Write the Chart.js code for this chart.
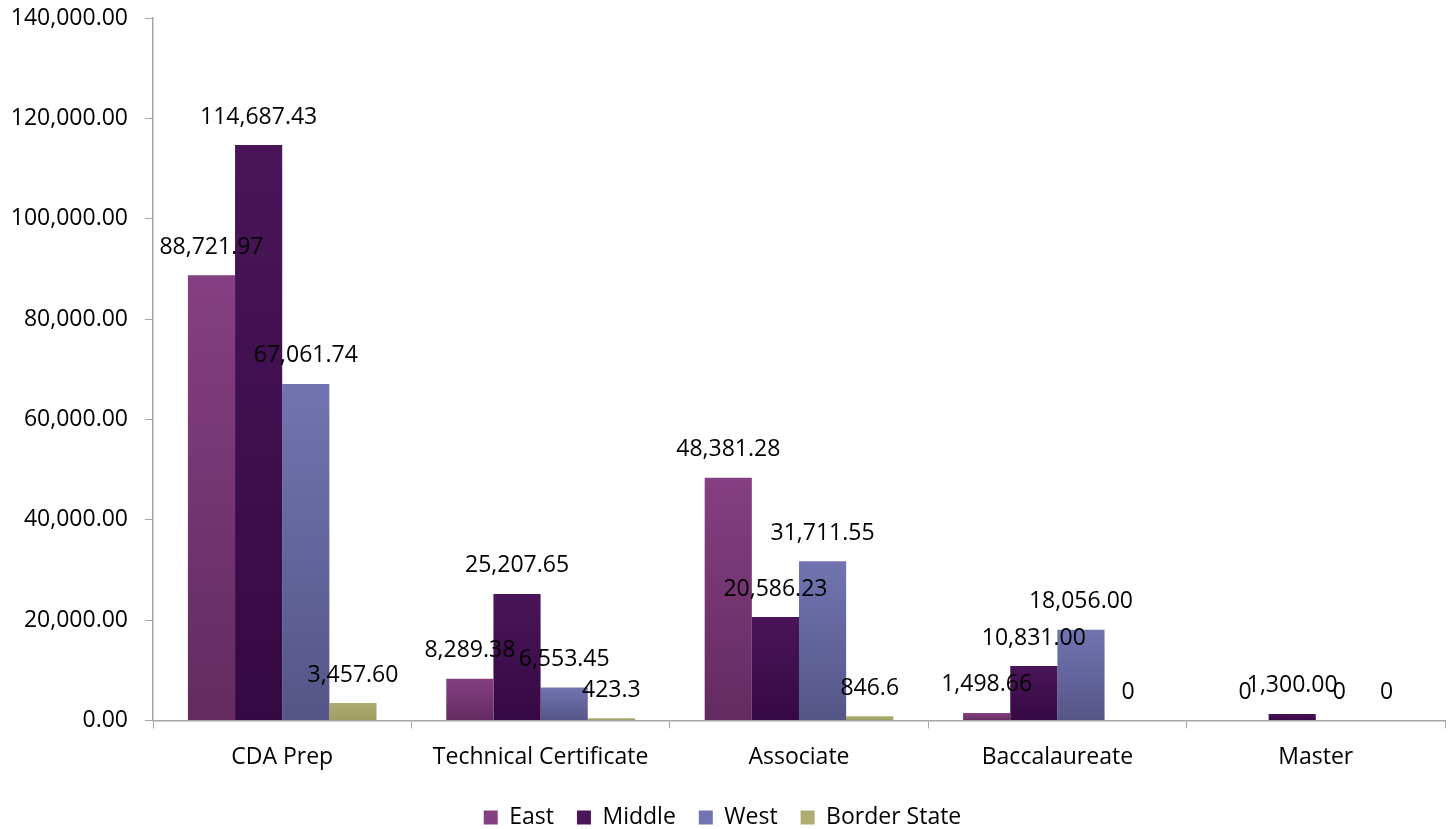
<!DOCTYPE html>
<html>
<head>
<meta charset="utf-8">
<script src="https://cdn.jsdelivr.net/npm/chart.js@4/dist/chart.umd.min.js"></script>
<style>
  body { margin: 0; background: #fff; }
  #wrap { width: 1453px; height: 829px; }
</style>
</head>
<body>
<div id="wrap"><canvas id="myChart"></canvas></div>
<script>
var categories = ["CDA Prep", "Technical Certificate", "Associate", "Baccalaureate", "Master"];
var seriesNames = ["East", "Middle", "West", "Border State"];
var east = [88721.97, 8289.38, 48381.28, 1498.66, 0];
var middle = [114687.43, 25207.65, 20586.23, 10831.00, 1300.00];
var west = [67061.74, 6553.45, 31711.55, 18056.00, 0];
var border = [3457.60, 423.3, 846.6, 0, 0];
var eastLabels = ["88,721.97", "8,289.38", "48,381.28", "1,498.66", "0"];
var middleLabels = ["114,687.43", "25,207.65", "20,586.23", "10,831.00", "1,300.00"];
var westLabels = ["67,061.74", "6,553.45", "31,711.55", "18,056.00", "0"];
var borderLabels = ["3,457.60", "423.3", "846.6", "0", "0"];
var yTicks = [0, 20000, 40000, 60000, 80000, 100000, 120000, 140000];

var FONT = "'Open Sans', sans-serif";
var FSIZE = 23;

// top / bottom colours of each series gradient
var colours = [
  ["#853f82", "#632b60"],
  ["#4a1559", "#350943"],
  ["#7274b1", "#555587"],
  ["#aeac72", "#9e9c60"]
];
var allLabels = [eastLabels, middleLabels, westLabels, borderLabels];

function barFill(idx) {
  return function(c) {
    var chart = c.chart;
    if (!chart.chartArea || c.raw === undefined) return colours[idx][0];
    var y = chart.scales.y;
    var top = y.getPixelForValue(c.raw);
    var bottom = y.getPixelForValue(0);
    if (bottom - top < 1) return colours[idx][0];
    var g = chart.ctx.createLinearGradient(0, top, 0, bottom);
    g.addColorStop(0, colours[idx][0]);
    g.addColorStop(1, colours[idx][1]);
    return g;
  };
}

var valueLabels = {
  id: "valueLabels",
  afterDatasetsDraw: function(chart) {
    var ctx = chart.ctx;
    ctx.save();
    ctx.font = FSIZE + "px " + FONT;
    ctx.fillStyle = "#000";
    ctx.textAlign = "center";
    ctx.textBaseline = "middle";
    chart.data.datasets.forEach(function(ds, i) {
      var meta = chart.getDatasetMeta(i);
      meta.data.forEach(function(bar, j) {
        ctx.fillText(allLabels[i][j], bar.x, bar.y - 28);
      });
    });
    ctx.restore();
  }
};

var chart = document.getElementById("myChart").getContext("2d");
var cData = {
  labels: categories,
  datasets: [east, middle, west, border].map(function(d, i) {
    return {
      label: seriesNames[i],
      data: d,
      backgroundColor: barFill(i),
      borderWidth: 0,
      categoryPercentage: 0.73,
      barPercentage: 1.0
    };
  })
};

var myChart = new Chart(chart, {
  type: "bar",
  data: cData,
  plugins: [valueLabels],
  options: {
    responsive: true,
    maintainAspectRatio: false,
    animation: false,
    layout: { padding: { top: 18, right: 8, left: 0, bottom: -10 } },
    plugins: {
      tooltip: { enabled: false },
      legend: {
        position: "bottom",
        labels: {
          font: { family: FONT, size: FSIZE },
          color: "#000",
          boxWidth: 14,
          boxHeight: 14,
          padding: 23,
          generateLabels: function(ch) {
            return seriesNames.map(function(n, i) {
              return {
                text: n,
                fillStyle: colours[i][0],
                strokeStyle: colours[i][0],
                lineWidth: 0,
                hidden: false,
                datasetIndex: i
              };
            });
          }
        }
      }
    },
    scales: {
      x: {
        afterFit: function(scale) { scale.height -= 3; },
        grid: { display: true, offset: true, drawOnChartArea: false, color: "#a6a6a6", tickLength: 8 },
        border: { color: "#a6a6a6", width: 1.5 },
        ticks: { font: { family: FONT, size: FSIZE }, color: "#000", maxRotation: 0, padding: 15 }
      },
      y: {
        min: 0,
        max: 140000,
        afterBuildTicks: function(scale) {
          scale.ticks = yTicks.map(function(v) { return { value: v }; });
        },
        afterFit: function(scale) {
          scale.width = 153;
          scale.paddingTop = 4;
        },
        grid: { display: true, drawOnChartArea: false, color: "#a6a6a6", tickLength: 8 },
        border: { color: "#a6a6a6", width: 1.5 },
        ticks: {
          font: { family: FONT, size: FSIZE },
          color: "#000",
          padding: 17,
          callback: function(v) {
            return Number(v).toLocaleString("en-US", { minimumFractionDigits: 2, maximumFractionDigits: 2 });
          }
        }
      }
    }
  }
});
</script>
</body>
</html>
